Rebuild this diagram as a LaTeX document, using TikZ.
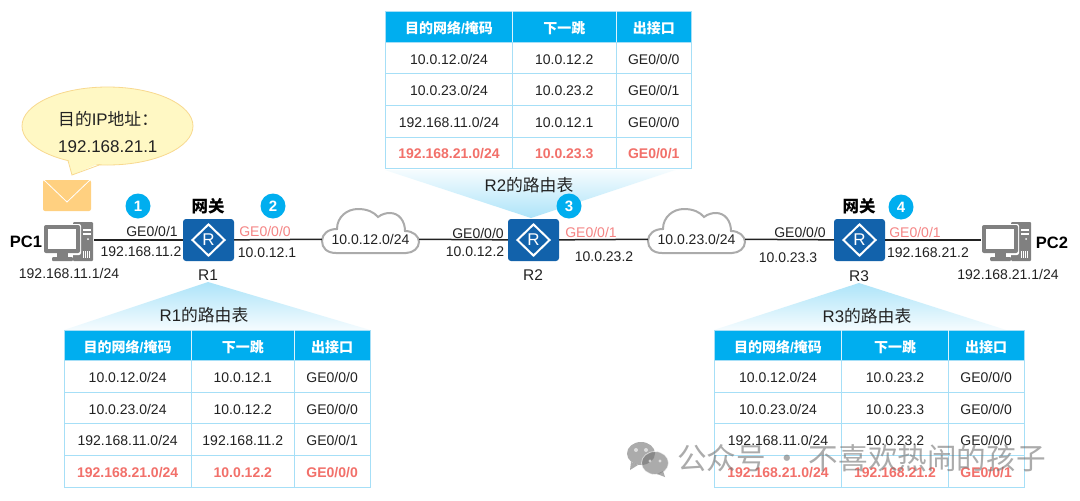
\documentclass[tikz,border=0pt]{standalone}
\usepackage{fontspec}
\setmainfont{Liberation Sans}
\newfontfamily\cjk{Noto Sans CJK SC}
\usetikzlibrary{shapes.geometric}
\definecolor{blu}{HTML}{00AEEF}
\definecolor{rtr}{HTML}{1262AB}
\definecolor{gridc}{HTML}{A6DFF7}
\definecolor{redt}{HTML}{F2706A}
\definecolor{redl}{HTML}{F58585}
\definecolor{ink}{HTML}{222222}
\definecolor{pcg}{HTML}{808080}
\definecolor{tri}{HTML}{ADE4F9}
\definecolor{bubf}{HTML}{FFF8C4}
\definecolor{bubl}{HTML}{F8D98F}
\definecolor{env}{HTML}{FFD080}
\newcommand{\zh}[1]{{\cjk #1}}
\tikzset{
  lab/.style={inner sep=0pt,text=ink,text height=10pt,text depth=0pt,font=\fontsize{14}{16}\selectfont,anchor=center},
  labbig/.style={lab,font=\fontsize{15.5}{16}\selectfont},
  labfan/.style={lab,font=\fontsize{16.8}{18}\selectfont,text height=12pt},
  labred/.style={lab,text=redl},
  labb/.style={lab,text=black,text height=11.5pt,font=\fontsize{16.5}{18}\selectfont\bfseries},
  tbl/.style={draw=gridc,line width=1pt,fill=white},
  cellbody/.style={lab,yshift=-1.3pt},
  cellred/.style={lab,yshift=-1.3pt,text=redt,font=\fontsize{14}{16}\selectfont\bfseries},
  cellhead/.style={lab,yshift=-2pt,text=white,font=\fontsize{14}{16}\selectfont\bfseries},
  badge/.style={circle,fill=blu,text=white,minimum size=25pt,inner sep=0pt,font=\fontsize{15}{16}\selectfont\bfseries},
  router/.style={rounded corners=3pt,fill=rtr,minimum width=51pt,minimum height=42pt,inner sep=0pt},
  link/.style={draw=ink,line width=1.5pt},
  cloudline/.style={draw=black!33,line width=2pt,fill=white},
  hub/.style={inner sep=0pt,minimum height=40pt},
}
% table row: name, ytop, ybot, style, three texts
\newcommand{\trow}[7]{%
  \draw[tbl] (\xa,#2) rectangle node[#4] (#1a) {#5} (\xb,#3);
  \draw[tbl] (\xb,#2) rectangle node[#4] (#1b) {#6} (\xc,#3);
  \draw[tbl] (\xc,#2) rectangle node[#4] (#1c) {#7} (\xd,#3);
}
\newcommand{\thead}[3]{%
  \path[fill=blu] (\xa,#2) rectangle (\xd,#3);
  \draw[gridc,line width=1pt] (\xa,#2) rectangle (\xd,#3);
  \draw[white!60!gridc,line width=1pt] (\xb,#2) -- (\xb,#3) (\xc,#2) -- (\xc,#3);
  \node[cellhead] (#1a) at ({(\xa+\xb)/2},{(#2+#3)/2}) {\zh{目的网络}/\zh{掩码}};
  \node[cellhead] (#1b) at ({(\xb+\xc)/2},{(#2+#3)/2}) {\zh{下一跳}};
  \node[cellhead] (#1c) at ({(\xc+\xd)/2},{(#2+#3)/2}) {\zh{出接口}};
}
\newcommand{\cloudat}[2]{%
  \begin{scope}[shift={(#1,#2)}]
  \draw[cloudline] (14,44) .. controls (5,44) and (0,39) .. (0,32)
    .. controls (0,25) and (6,20) .. (15,20)
    .. controls (15,8) and (25,0) .. (36,0)
    .. controls (45,0) and (52,3) .. (56,8)
    .. controls (60,5) and (64,4) .. (68,4)
    .. controls (77,4) and (83,12) .. (83,22)
    .. controls (91,22) and (97,27) .. (97,33)
    .. controls (97,39) and (91,44) .. (84,44) -- cycle;
  \end{scope}}
\newcommand{\pcat}[2]{%
  \begin{scope}[shift={(#1,#2)}]
  \fill[pcg,rounded corners=1pt] (29,0) rectangle (49,39);
  \fill[white] (39,7) rectangle (47,8.5);
  \fill[white] (39,11) rectangle (47,12.5);
  \fill[white] (44,17) circle (1pt);
  \foreach \vx in {39,41,43,45} {\fill[white] (\vx,29) rectangle (\vx+.8,36);}
  \fill[white,rounded corners=2pt] (-1,2) rectangle (37,33);
  \fill[pcg,rounded corners=2pt] (0,3) rectangle (36,31);
  \fill[white] (4,7) rectangle (32,27);
  \fill[pcg] (13,31) rectangle (24,35);
  \fill[pcg,rounded corners=1pt] (8,35) rectangle (29,39);
  \end{scope}}
\newcommand{\rmark}[1]{%
  \node[diamond,draw=white,line width=2pt,minimum width=33pt,minimum height=32pt,inner sep=0pt,text=white,font=\fontsize{17}{18}\selectfont] at (#1) {R};}
\begin{document}
\begin{tikzpicture}[x=1pt,y=-1pt]
\useasboundingbox (0,0) rectangle (1080,501);
\fill[white] (0,0) rectangle (1080,501);

% gradient fans
\shade[top color=tri,bottom color=tri!12] (208,282) -- (370,330) -- (64,330) -- cycle;
\shade[bottom color=tri,top color=tri!12] (531,218) -- (675,170) -- (385,170) -- cycle;
\shade[top color=tri,bottom color=tri!12] (859,283) -- (1006,330) -- (714,330) -- cycle;

% tables
\def\xa{385.5}\def\xb{512.5}\def\xc{616}\def\xd{691.5}
\thead{tb0}{11}{42}
\trow{tb1}{42}{73.5}{cellbody}{10.0.12.0/24}{10.0.12.2}{GE0/0/0}
\trow{tb2}{73.5}{105}{cellbody}{10.0.23.0/24}{10.0.23.2}{GE0/0/1}
\trow{tb3}{105}{137}{cellbody}{192.168.11.0/24}{10.0.12.1}{GE0/0/0}
\trow{tb4}{137}{168}{cellred}{192.168.21.0/24}{10.0.23.3}{GE0/0/1}

\def\xa{64}\def\xb{191.3}\def\xc{294.3}\def\xd{370}
\thead{ta0}{330}{360.7}
\trow{ta1}{360.7}{392.3}{cellbody}{10.0.12.0/24}{10.0.12.1}{GE0/0/0}
\trow{ta2}{392.3}{423.3}{cellbody}{10.0.23.0/24}{10.0.12.2}{GE0/0/0}
\trow{ta3}{423.3}{455.7}{cellbody}{192.168.11.0/24}{192.168.11.2}{GE0/0/1}
\trow{ta4}{455.7}{487.3}{cellred}{192.168.21.0/24}{10.0.12.2}{GE0/0/0}

\def\xa{714.3}\def\xb{841.7}\def\xc{948.3}\def\xd{1024}
\thead{tc0}{330}{360.7}
\trow{tc1}{360.7}{392.3}{cellbody}{10.0.12.0/24}{10.0.23.2}{GE0/0/0}
\trow{tc2}{392.3}{423.3}{cellbody}{10.0.23.0/24}{10.0.23.3}{GE0/0/0}
\trow{tc3}{423.3}{455}{cellbody}{192.168.11.0/24}{10.0.23.2}{GE0/0/0}
\trow{tc4}{455}{487}{cellred}{192.168.21.0/24}{192.168.21.2}{GE0/0/1}

% network hubs
\node[hub,minimum width=50pt] (pc1) at (69,240) {};
\node[hub,minimum width=49pt] (pc2) at (1006.5,240) {};
\node[router] (r1) at (208.5,240) {};
\node[router] (r2) at (533.5,240) {};
\node[router] (r3) at (859.5,240) {};
\rmark{r1}\rmark{r2}\rmark{r3}
\cloudat{322}{209}
\cloudat{648}{209}
\node[lab,minimum width=97pt,minimum height=20pt] (c1) at (370.5,239) {10.0.12.0/24};
\node[lab,minimum width=97pt,minimum height=20pt] (c2) at (696.5,239) {10.0.23.0/24};
\draw[link] (pc1) -- (r1);
\draw[link] (r1) -- (c1);
\draw[link] (c1) -- (r2);
\draw[link] (r2) -- (c2);
\draw[link] (c2) -- (r3);
\draw[link] (r3) -- (pc2);
\pcat{44}{222}
\pcat{982}{222}

% callout and envelope
\draw[draw=bubl,fill=bubf,line width=.8pt] (107.5,126) ellipse (85.5 and 39);
\fill[bubf] (68,158) -- (72,175) -- (100,163) -- cycle;
\draw[bubl,line width=.8pt] (68,160.5) -- (72,175) -- (100,164.7);
\node[lab,anchor=west,font=\fontsize{16.8}{18}\selectfont] (bub1) at (58,120) {\zh{目的}IP\zh{地址：}};
\node[lab,anchor=west,font=\fontsize{17}{18}\selectfont] (bub2) at (58,147) {192.168.21.1};
\fill[env,rounded corners=2pt] (43,180) rectangle (91,211);
\draw[white,line width=.8pt] (44,180) -- (67,202) -- (90,180);

% badges
\node[badge] (b1) at (138,206) {1};
\node[badge] (b2) at (273,206) {2};
\node[badge] (b3) at (569,206) {3};
\node[badge] (b4) at (901,207) {4};

% labels
\node[labb] (pc1n) at (26,242) {PC1};
\node[lab] at (69,273) {192.168.11.1/24};
\node[lab] at (152,231) {GE0/0/1};
\node[lab] at (141,251) {192.168.11.2};
\node[labb] at (208,207) {\zh{网关}};
\node[labbig] at (208,275) {R1};
\node[labred] at (265,231) {GE0/0/0};
\node[lab] at (267,252) {10.0.12.1};
\node[labfan] at (204,315) {R1\zh{的路由表}};
\node[lab] at (478,233) {GE0/0/0};
\node[lab] at (475,251) {10.0.12.2};
\node[labred] at (591,232) {GE0/0/1};
\node[lab] at (604,256) {10.0.23.2};
\node[labbig] at (533,275) {R2};
\node[labfan] at (529,185) {R2\zh{的路由表}};
\node[lab] at (800,232) {GE0/0/0};
\node[lab] at (788,257) {10.0.23.3};
\node[labred] at (915,232) {GE0/0/1};
\node[lab] at (928,252) {192.168.21.2};
\node[labb] at (859,207) {\zh{网关}};
\node[labbig] at (859,276) {R3};
\node[labfan] at (867,316) {R3\zh{的路由表}};
\node[labb] at (1052,243) {PC2};
\node[lab] at (1008,274) {192.168.21.1/24};

% watermark
\begin{scope}[opacity=.6]
\fill[black!55] (641,453.5) ellipse (14 and 11.5);
\fill[black!55] (631,462) -- (630,470) -- (638,465) -- cycle;
\draw[white,line width=.8pt,fill=black!55] (655,463) ellipse (13.5 and 11.5);
\fill[black!55] (663,471) -- (665,477) -- (657,474) -- cycle;
\fill[white] (636,450) circle (2) (646,450) circle (2) (650,461) circle (1.6) (660,461) circle (1.6);
\node[inner sep=0pt,anchor=west,text=black!55,font=\cjk\fontsize{29.6}{32}\selectfont] (wm) at (677,458) {公众号 · 不喜欢热闹的孩子};
\end{scope}
\end{tikzpicture}
\end{document}
